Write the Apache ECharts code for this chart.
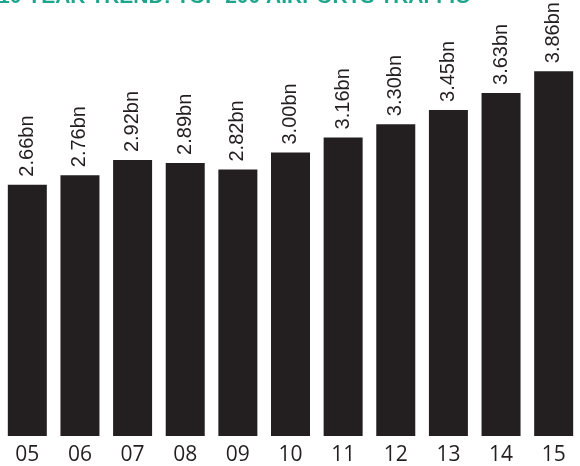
<!DOCTYPE html>
<html>
<head>
<meta charset="utf-8">
<script src="https://cdn.jsdelivr.net/npm/echarts@6/dist/echarts.min.js"></script>
<style>
  html, body { margin: 0; padding: 0; background: #ffffff; }
  #chart { width: 580px; height: 466px; }
</style>
</head>
<body>
<div id="chart"></div>
<script>
const titleText = '10 YEAR TREND: TOP 200 AIRPORTS TRAFFIC';
const years = ['05', '06', '07', '08', '09', '10', '11', '12', '13', '14', '15'];
const traffic = [2.66, 2.76, 2.92, 2.89, 2.82, 3.00, 3.16, 3.30, 3.45, 3.63, 3.86];

const chart = echarts.init(document.getElementById('chart'), null, { renderer: 'canvas' });
chart.setOption({
  animation: false,
  backgroundColor: '#ffffff',
  graphic: [{
    type: 'text',
    left: -2,
    top: -13,
    style: {
      text: titleText,
      fill: '#1fa58c',
      font: 'bold 21px "Liberation Sans", Arial, sans-serif'
    }
  }],
  grid: { left: 1, width: 588, top: 58, bottom: 29, containLabel: false },
  xAxis: {
    type: 'category',
    data: years,
    axisLine: { show: false },
    axisTick: { show: false },
    axisLabel: {
      margin: 9,
      color: '#231f20',
      fontSize: 21,
      fontFamily: '"Open Sans", "Noto Sans", sans-serif'
    }
  },
  yAxis: {
    type: 'value',
    min: 0,
    max: 4,
    show: false,
    splitLine: { show: false }
  },
  series: [{
    type: 'bar',
    data: traffic,
    barWidth: 39,
    itemStyle: { color: '#231f20' },
    label: {
      show: true,
      position: 'top',
      distance: 8,
      rotate: 90,
      align: 'left',
      verticalAlign: 'middle',
      color: '#231f20',
      fontSize: 20,
      fontFamily: '"Liberation Sans", Arial, sans-serif',
      formatter: p => p.value.toFixed(2) + 'bn'
    }
  }]
});
</script>
</body>
</html>
